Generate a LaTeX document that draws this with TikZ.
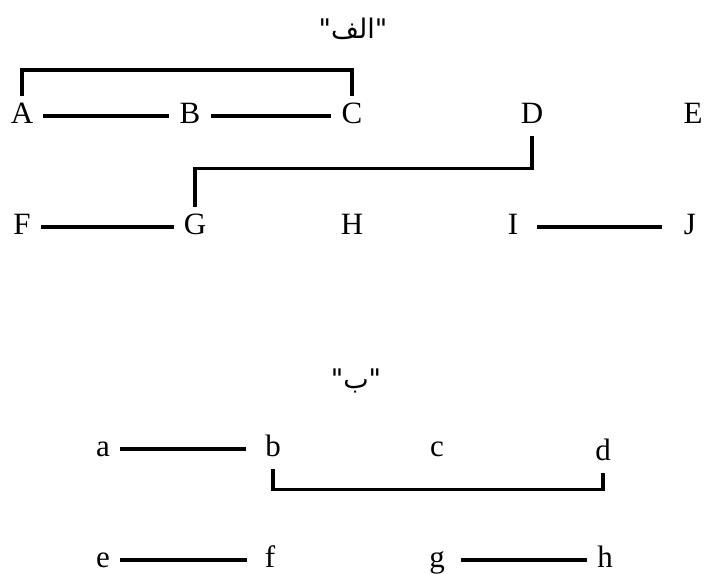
\documentclass[tikz,border=0pt]{standalone}
\usepackage{fontspec}
\setmainfont{Liberation Serif}
\newfontfamily\arabicfont[Script=Arabic]{DejaVu Sans}
\TeXXeTstate=1
\usetikzlibrary{positioning}

\begin{document}
\begin{tikzpicture}[x=1pt, y=-1pt,
        letter/.style={font=\fontsize{31}{31}\selectfont, text height=20pt, text depth=6pt, inner xsep=10pt, inner ysep=7pt},
        link/.style={line width=3.4pt},
        heading/.style={font=\arabicfont\fontsize{27}{30}\selectfont}]
        \useasboundingbox (0,0) rectangle (706,573);

        % part one
        \node[heading] (alef) at (353,29) {\beginR"الف"\endR};
        \node[letter] (A) at (22,116) {A};
        \node[letter, right of=A, node distance=168pt] (B) {B};
        \node[letter, right of=B, node distance=162pt] (C) {C};
        \node[letter, right of=C, node distance=180pt] (D) {D};
        \node[letter, right of=D, node distance=161pt] (E) {E};
        \node[letter] (F) at (22,227) {F};
        \node[letter, right of=F, node distance=173pt] (G) {G};
        \node[letter, right of=G, node distance=157pt] (H) {H};
        \node[letter, right of=H, node distance=161pt] (I) {I};
        \node[letter, right of=I, node distance=177pt] (J) {J};

        \draw[link] (A) -- (B);
        \draw[link] (B) -- (C);
        \draw[link] (F) -- (G);
        \draw[link, shorten <=9pt, shorten >=12pt] (I) -- (J);
        \draw[link] (A.north) -- ++(0,-26) -| (C.north);
        \draw[link] (D.south) -- ++(0,32) -| (G.north);

        % part two
        \node[heading] (be) at (356,381) {\beginR"ب"\endR};
        \node[letter] (a) at (103,449) {a};
        \node[letter, right of=a, node distance=170pt] (b) {b};
        \node[letter, right of=b, node distance=164pt] (c) {c};
        \node[letter, right of=c, node distance=166pt, yshift=-4pt] (d) {d};
        \node[letter] (e) at (103,560) {e};
        \node[letter, right of=e, node distance=167pt] (f) {f};
        \node[letter, right of=f, node distance=167pt] (g) {g};
        \node[letter, right of=g, node distance=168pt] (h) {h};

        \draw[link, shorten >=9pt] (a) -- (b);
        \draw[link, shorten >=8pt] (e) -- (f);
        \draw[link, shorten <=6pt] (g) -- (h);
        \draw[link] (b.south) -- ++(0,20) -| (d.south);
\end{tikzpicture}
\end{document}
